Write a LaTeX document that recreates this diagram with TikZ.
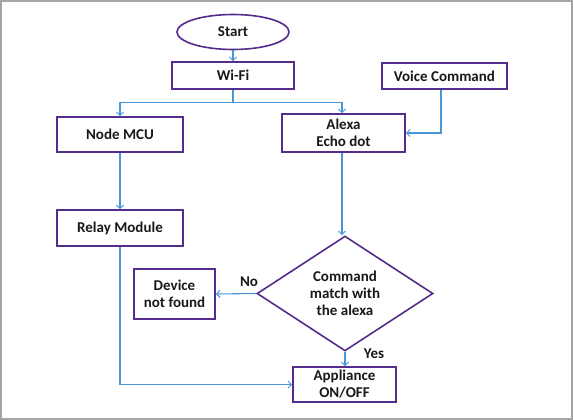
\documentclass[tikz,border=0pt]{standalone}
\usepackage{fontspec}
\setmainfont{Carlito}
\usetikzlibrary{arrows.meta,shapes.geometric}
\definecolor{boxc}{RGB}{84,44,140}
\definecolor{arrc}{RGB}{72,150,215}
\definecolor{txtc}{RGB}{25,25,25}
\definecolor{framec}{RGB}{165,165,165}
\tikzset{
  box/.style={draw=boxc, line width=1.6pt, fill=white, inner sep=2pt, align=center,
    font=\fontsize{15}{17}\selectfont\bfseries, text=txtc},
  term/.style={box, ellipse},
  decis/.style={box, diamond, inner sep=0pt},
  conn/.style={draw=arrc, line width=1.1pt, -{Straight Barb[length=3.5pt,width=7pt,line width=1pt]}},
  lab/.style={font=\fontsize{15}{17}\selectfont\bfseries, text=txtc}
}
\begin{document}
\begin{tikzpicture}[x=1pt,y=-1pt]
\useasboundingbox (0,0) rectangle (573,420);
\fill[white] (0,0) rectangle (573,420);
\draw[framec, line width=1.6pt] (0.8,0.8) rectangle (572.2,419.2);
\node[term, minimum width=112pt, minimum height=35pt] (start) at (233,32) {Start};
\node[box, minimum width=122pt, minimum height=27pt] (wifi) at (233,75.5) {Wi-Fi};
\node[box, minimum width=125pt, minimum height=26pt] (voice) at (444.5,76) {Voice Command};
\node[box, minimum width=126pt, minimum height=35pt] (mcu) at (120,134.5) {Node MCU};
\node[box, minimum width=123pt, minimum height=38pt] (alexa) at (343.5,133) {Alexa\\Echo dot};
\node[box, minimum width=126pt, minimum height=36pt] (relay) at (120,228) {Relay Module};
\node[decis, minimum width=176pt, minimum height=97pt] (dec) at (345,293.5) {Command\\match with\\the alexa};
\node[box, minimum width=81pt, minimum height=50pt] (dev) at (174.5,294) {Device\\not found};
\node[box, minimum width=103pt, minimum height=35pt] (app) at (344.5,384.5) {Appliance\\ON/OFF};
\node[lab] (no) at (249,282) {No};
\node[lab] (yes) at (374,354) {Yes};
\coordinate (split) at (233,102.5);
\draw[conn] (start) -- (wifi);
\draw[draw=arrc, line width=1.1pt] (wifi.south) -- (split);
\draw[conn] (split) -| (mcu.north);
\draw[conn] (split) -| ([xshift=-1.5pt]alexa.north);
\draw[conn] ([xshift=-3.5pt]voice.south) |- (alexa.east);
\draw[conn] (mcu) -- (relay);
\draw[conn] ([xshift=-1.5pt]alexa.south) -- ([xshift=-1.5pt]alexa.south |- dec.north);
\draw[conn] (dec.west) -- (dev.east);
\draw[conn] (dec.south) -- (dec.south |- app.north);
\draw[conn] (relay.south) |- (app.west);
\end{tikzpicture}
\end{document}
